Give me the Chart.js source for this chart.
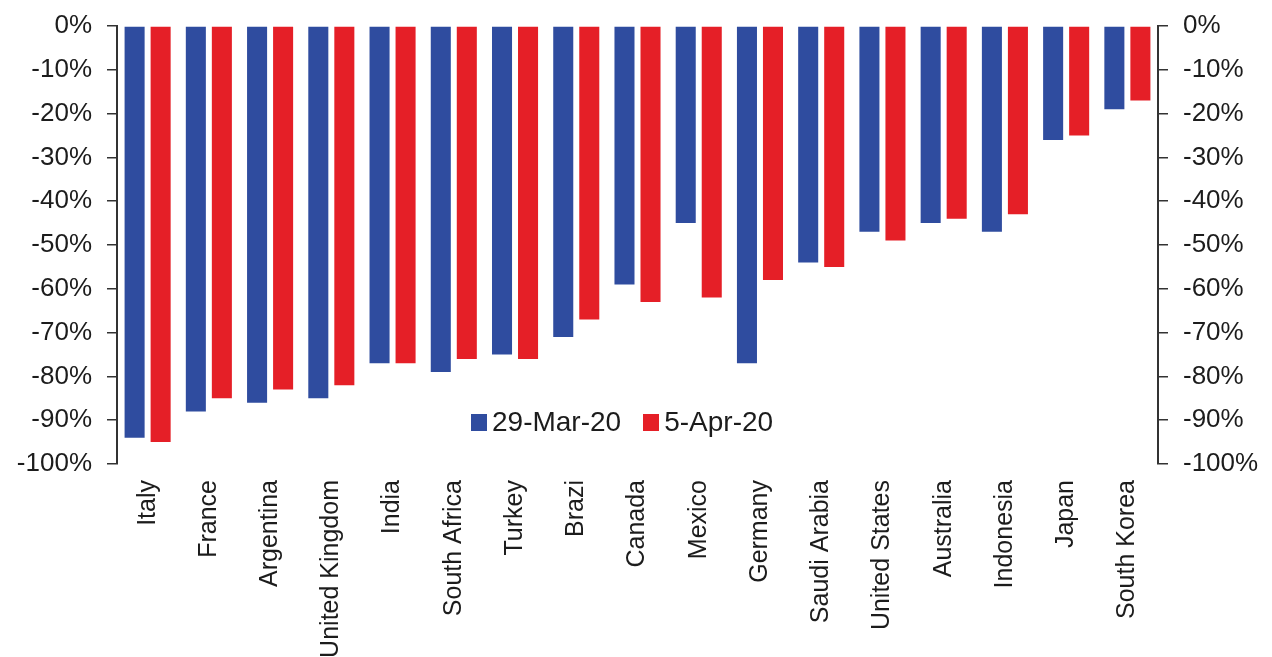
<!DOCTYPE html>
<html>
<head>
<meta charset="utf-8">
<script src="https://cdn.jsdelivr.net/npm/chart.js@4/dist/chart.umd.min.js"></script>
<style>
  html, body { margin: 0; padding: 0; background: #ffffff; }
  #wrap { position: relative; width: 1272px; height: 657px; }
  #legend {
    position: absolute; left: 471px; top: 406px;
    display: flex; align-items: center;
    font-family: "Liberation Sans", Arial, sans-serif; font-size: 28px; color: #1c1c1c;
  }
  #legend .item { display: flex; align-items: center; margin-right: 22px; }
  #legend .sw { width: 16px; height: 17px; margin-right: 5px; }
</style>
</head>
<body>
<div id="wrap">
  <canvas id="c" width="1272" height="657"></canvas>
  <div id="legend"></div>
</div>
<script>
const categories = ['Italy', 'France', 'Argentina', 'United Kingdom', 'India', 'South Africa', 'Turkey', 'Brazi',
  'Canada', 'Mexico', 'Germany', 'Saudi Arabia', 'United States', 'Australia', 'Indonesia', 'Japan', 'South Korea'];
const seriesNames = ['29-Mar-20', '5-Apr-20'];
const mar29 = [-94, -88, -86, -85, -77, -79, -75, -71, -59, -45, -77, -54, -47, -45, -47, -26, -19];
const apr5 = [-95, -85, -83, -82, -77, -76, -76, -67, -63, -62, -58, -55, -49, -44, -43, -25, -17];
const yTicks = [0, -10, -20, -30, -40, -50, -60, -70, -80, -90, -100];

const BLUE = '#2f4c9f';
const RED = '#e51f27';
const INK = '#1c1c1c';
const AXIS = '#333333';
const FONT = '"Liberation Sans", Arial, sans-serif';

const pct = v => v + '%';

function yAxis(position, width) {
  return {
    position: position,
    min: -100,
    max: 0,
    afterBuildTicks: s => { s.ticks = yTicks.map(v => ({ value: v })); },
    afterFit: s => { s.width = width; s.paddingTop = 0; s.paddingBottom = 0; },
    border: { display: true, color: AXIS, width: 2 },
    grid: { display: true, drawOnChartArea: false, drawTicks: true, tickLength: 10, color: AXIS, lineWidth: 1.5 },
    ticks: { callback: pct, color: INK, padding: 15, font: { family: FONT, size: 26 } }
  };
}

const chart = new Chart(document.getElementById('c'), {
  type: 'bar',
  data: {
    labels: categories,
    datasets: [
      { label: seriesNames[0], data: mar29, backgroundColor: BLUE, yAxisID: 'y' },
      { label: seriesNames[1], data: apr5, backgroundColor: RED, yAxisID: 'y' }
    ]
  },
  options: {
    responsive: false,
    animation: false,
    devicePixelRatio: 1,
    layout: { padding: { top: 26, left: 0, right: 0, bottom: 0 } },
    datasets: { bar: { categoryPercentage: 0.85, barPercentage: 0.77 } },
    plugins: { legend: { display: false }, title: { display: false }, tooltip: { enabled: false } },
    scales: {
      x: {
        afterFit: s => { s.height = 193; },
        border: { display: false },
        grid: { display: false, drawTicks: false },
        ticks: {
          autoSkip: false, minRotation: 90, maxRotation: 90, padding: 16,
          color: INK, font: { family: FONT, size: 25 }
        }
      },
      y: yAxis('left', 117),
      y2: yAxis('right', 114)
    }
  }
});

// Legend built from the chart's own datasets
const legendEl = document.getElementById('legend');
chart.data.datasets.forEach(ds => {
  const item = document.createElement('div');
  item.className = 'item';
  const sw = document.createElement('span');
  sw.className = 'sw';
  sw.style.background = ds.backgroundColor;
  const tx = document.createElement('span');
  tx.textContent = ds.label;
  item.appendChild(sw);
  item.appendChild(tx);
  legendEl.appendChild(item);
});
</script>
</body>
</html>
